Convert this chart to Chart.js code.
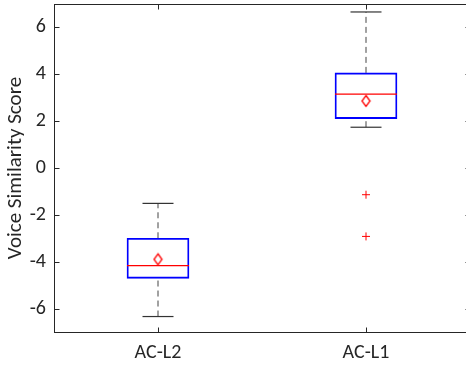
<!DOCTYPE html>
<html>
<head>
<meta charset="utf-8">
<script src="https://cdn.jsdelivr.net/npm/chart.js@4"></script>
<style>
  html, body { margin: 0; padding: 0; background: #fff; overflow: hidden; }
  canvas { display: block; }
</style>
</head>
<body>
<canvas id="chart" width="472" height="369"></canvas>
<script>
// box plot values
const categories = ['AC-L2', 'AC-L1'];
const whiskerLow = [-6.34, 1.74];
const q1 = [-4.71, 2.11];
const median = [-4.17, 3.15];
const q3 = [-3.0, 4.06];
const whiskerHigh = [-1.51, 6.66];
const means = [-3.9, 2.86];
const outliers = [[], [-1.14, -2.92]];
const yTicks = [-6, -4, -2, 0, 2, 4, 6];

const FONT = 'Carlito, Lato, sans-serif';
const INK = '#262626';

// tall red diamond for the mean
const diamond = document.createElement('canvas');
diamond.width = 11; diamond.height = 14;
(function () {
    const c = diamond.getContext('2d');
    c.strokeStyle = '#ff0000';
    c.lineWidth = 1.3;
    c.beginPath();
    c.moveTo(5.5, 1.5); c.lineTo(9.5, 7); c.lineTo(5.5, 12.5); c.lineTo(1.5, 7); c.closePath();
    c.stroke();
})();

const xs = categories.map((c, i) => i + 1);

// dashed whiskers as broken line segments
const whiskerPts = [];
xs.forEach((x, i) => {
    whiskerPts.push({ x: x, y: q3[i] }, { x: x, y: whiskerHigh[i] }, { x: x, y: null });
    whiskerPts.push({ x: x, y: whiskerLow[i] }, { x: x, y: q1[i] }, { x: x, y: null });
});

const outlierPts = [];
outliers.forEach((list, i) => list.forEach(v => outlierPts.push({ x: xs[i], y: v })));

const frame = {
    id: 'frame',
    afterDraw(chart) {
        const { ctx, chartArea: a, scales } = chart;
        ctx.save();
        ctx.strokeStyle = INK;
        ctx.lineWidth = 1;
        const L = Math.round(a.left) + 0.5, R = Math.round(a.right) + 0.5;
        const T = Math.round(a.top) + 0.5, B = Math.round(a.bottom) + 0.5;
        ctx.strokeRect(L, T, R - L, B - T);
        ctx.beginPath();
        yTicks.forEach(v => {
            const y = Math.round(scales.y.getPixelForValue(v)) + 0.5;
            ctx.moveTo(L, y); ctx.lineTo(L + 5, y);
            ctx.moveTo(R, y); ctx.lineTo(R - 5, y);
        });
        xs.forEach(v => {
            const x = Math.round(scales.x.getPixelForValue(v)) + 0.5;
            ctx.moveTo(x, B); ctx.lineTo(x, B - 5);
            ctx.moveTo(x, T); ctx.lineTo(x, T + 5);
        });
        ctx.stroke();
        ctx.restore();
    }
};

new Chart(document.getElementById('chart'), {
    data: {
        datasets: [
            {
                type: 'scatter', label: 'outliers', data: outlierPts,
                pointStyle: 'cross', pointRadius: 4, borderColor: '#ff0000', borderWidth: 1
            },
            {
                type: 'scatter', label: 'mean', data: xs.map((x, i) => ({ x: x, y: means[i] })),
                pointStyle: diamond, pointRadius: 6
            },
            {
                type: 'scatter', label: 'median', data: xs.map((x, i) => ({ x: x, y: median[i] })),
                pointStyle: 'line', pointRadius: 31, borderColor: '#ff0000', borderWidth: 1.2
            },
            {
                type: 'scatter', label: 'caps',
                data: xs.flatMap((x, i) => [{ x: x, y: whiskerLow[i] }, { x: x, y: whiskerHigh[i] }]),
                pointStyle: 'line', pointRadius: 15.5, borderColor: '#333333', borderWidth: 1.2
            },
            {
                type: 'bar', label: 'box', data: xs.map((x, i) => ({ x: x, y: [q1[i], q3[i]] })),
                backgroundColor: 'rgba(0,0,0,0)', borderColor: '#0000ff', borderWidth: 1.2,
                borderSkipped: false, barThickness: 62
            },
            {
                type: 'line', label: 'whiskers', data: whiskerPts,
                borderColor: '#444444', borderWidth: 1, borderDash: [6, 4],
                pointRadius: 0, spanGaps: false
            }
        ]
    },
    options: {
        responsive: false,
        animation: false,
        layout: { autoPadding: false, padding: { top: 4, right: 2, bottom: 0, left: 0 } },
        plugins: { legend: { display: false }, tooltip: { enabled: false } },
        scales: {
            x: {
                type: 'linear', min: 0.5, max: 2.5, offset: false,
                grid: { display: false, drawTicks: false },
                border: { display: false },
                afterBuildTicks: s => { s.ticks = xs.map(v => ({ value: v })); },
                afterFit: s => { s.height = 37; s.paddingLeft = 0; s.paddingRight = 0; },
                ticks: {
                    padding: 9, color: INK, font: { family: FONT, size: 20 },
                    callback: v => categories[v - 1]
                }
            },
            y: {
                min: -7, max: 7,
                grid: { display: false, drawTicks: false },
                border: { display: false },
                afterBuildTicks: s => { s.ticks = yTicks.map(v => ({ value: v })); },
                afterFit: s => { s.width = 54; s.paddingTop = 0; s.paddingBottom = 0; },
                ticks: { padding: 8, color: INK, font: { family: FONT, size: 20 } },
                title: {
                    display: true, text: 'Voice Similarity Score', color: INK,
                    font: { family: FONT, size: 21 }, padding: { top: 3, bottom: 0 }
                }
            }
        }
    },
    plugins: [frame]
});
</script>
</body>
</html>
